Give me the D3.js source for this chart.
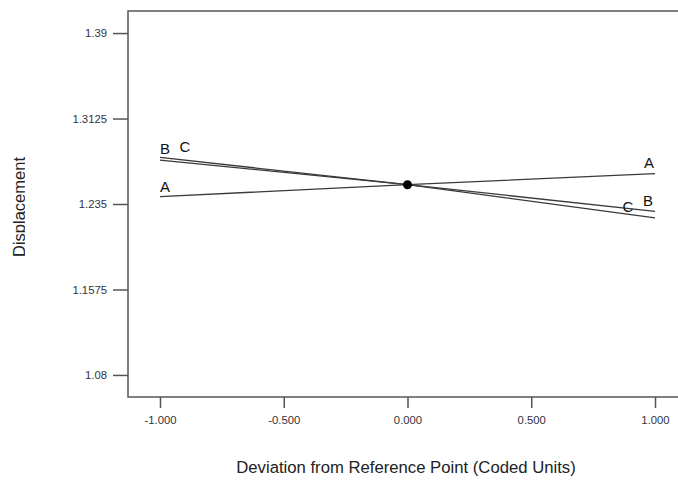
<!DOCTYPE html>
<html>
<head>
<meta charset="utf-8">
<script src="https://cdn.jsdelivr.net/npm/d3@7"></script>
<style>
    body { margin: 0; background: #fff; }
    text { font-family: "Liberation Sans", Arial, sans-serif; }
</style>
</head>
<body>
<div id="chart"></div>
<script>
// perturbation plot data, coded deviation -1, 0, 1
var deviation = [-1, 0, 1];
var factors = ["A", "B", "C"];
var valuesA = [1.2417, 1.2525, 1.2625];
var valuesB = [1.2772, 1.2525, 1.2284];
var valuesC = [1.2748, 1.2525, 1.2224];
var refPoint = 1.2525;
var xTicks = [-1, -0.5, 0, 0.5, 1];
var yTicks = [1.08, 1.1575, 1.235, 1.3125, 1.39];

PerturbPlot = function(_parentElement) {
    vis = this;

    this.parentElement = _parentElement;
    this.svgWidth = 678;
    this.svgHeight = 484;
    this.frame = { left: 128, right: 678, top: 11, bottom: 397 };
    this.series = [
        { name: factors[0], values: valuesA },
        { name: factors[1], values: valuesB },
        { name: factors[2], values: valuesC }
    ];
    // label offsets (px) at left and right ends
    this.labelOffsets = {
        A: [[5, -5], [-6, -6]],
        B: [[5, -3], [-7, -5]],
        C: [[25, -8], [-27, -6]]
    };

    this.initVis();
};

PerturbPlot.prototype.initVis = function() {
    vis = this;

    vis.svg = d3.select("#" + vis.parentElement).append("svg")
        .attr("width", vis.svgWidth)
        .attr("height", vis.svgHeight);

    vis.x = d3.scaleLinear()
        .domain([-1, 1])
        .range([160, 655]);

    vis.y = d3.scaleLinear()
        .domain([1.06, 1.41])
        .range([vis.frame.bottom, vis.frame.top]);

    vis.drawAxes();
    vis.drawLines();
};

PerturbPlot.prototype.drawAxes = function() {
    vis = this;
    var f = vis.frame;

    // frame: left, top, bottom
    vis.svg.append("path")
        .attr("d", "M" + f.right + "," + f.top + "H" + f.left + "V" + f.bottom + "H" + f.right)
        .attr("fill", "none")
        .attr("stroke", "#555")
        .attr("stroke-width", 1.5);

    var yAxis = vis.svg.append("g")
        .attr("transform", "translate(" + f.left + ",0)")
        .call(d3.axisLeft(vis.y).tickValues(yTicks).tickSize(15).tickPadding(6)
            .tickFormat(function(d) { return String(d); }));
    yAxis.select(".domain").remove();

    var xAxis = vis.svg.append("g")
        .attr("transform", "translate(0," + f.bottom + ")")
        .call(d3.axisBottom(vis.x).tickValues(xTicks).tickSize(11).tickPadding(8)
            .tickFormat(function(d) { return d.toFixed(3); }));
    xAxis.select(".domain").remove();

    vis.svg.selectAll(".tick line")
        .attr("stroke", "#555")
        .attr("stroke-width", 1.5);
    vis.svg.selectAll(".tick text")
        .attr("fill", "#333340")
        .style("font-size", "11.3px")
        .style("font-family", "'Liberation Sans', Arial, sans-serif");

    vis.svg.append("text")
        .attr("x", 406)
        .attr("y", 473)
        .attr("text-anchor", "middle")
        .attr("fill", "#222")
        .style("font-size", "16.7px")
        .text("Deviation from Reference Point (Coded Units)");

    // y label is clipped along its baseline like the original
    vis.svg.append("defs").append("clipPath")
        .attr("id", "yLabelClip")
        .append("rect")
        .attr("x", 0).attr("y", 0)
        .attr("width", 25).attr("height", vis.svgHeight);

    vis.svg.append("g")
        .attr("clip-path", "url(#yLabelClip)")
        .append("text")
        .attr("transform", "translate(25,207) rotate(-90)")
        .attr("text-anchor", "middle")
        .attr("fill", "#222")
        .style("font-size", "16.5px")
        .text("Displacement");
};

PerturbPlot.prototype.drawLines = function() {
    vis = this;

    var line = d3.line()
        .x(function(d, i) { return vis.x(deviation[i]); })
        .y(function(d) { return vis.y(d); });

    vis.svg.selectAll(".factorLine")
        .data(vis.series)
        .enter().append("path")
        .attr("class", "factorLine")
        .attr("d", function(d) { return line(d.values); })
        .attr("fill", "none")
        .attr("stroke", "#3a3a3a")
        .attr("stroke-width", 1.3);

    for (i = 0; i < vis.series.length; i++) {
        s = vis.series[i];
        off = vis.labelOffsets[s.name];
        ends = [0, s.values.length - 1];
        for (j = 0; j < ends.length; j++) {
            k = ends[j];
            vis.svg.append("text")
                .attr("x", vis.x(deviation[k]) + off[j][0])
                .attr("y", vis.y(s.values[k]) + off[j][1])
                .attr("text-anchor", "middle")
                .attr("fill", "#111")
                .style("font-size", "15px")
                .text(s.name);
        }
    }

    vis.svg.append("circle")
        .attr("cx", vis.x(0))
        .attr("cy", vis.y(refPoint))
        .attr("r", 4.5)
        .attr("fill", "#000");
};

new PerturbPlot("chart");
</script>
</body>
</html>
